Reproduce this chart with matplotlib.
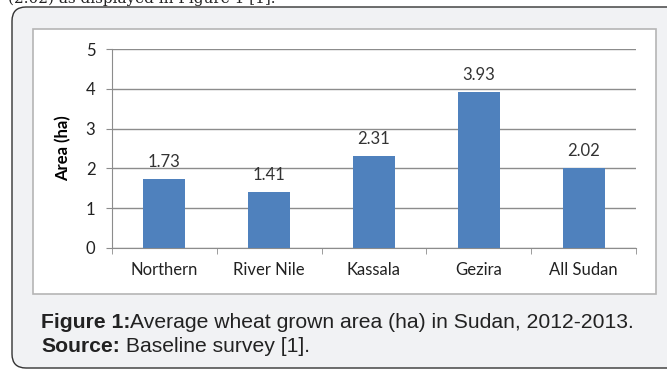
import numpy as np
import matplotlib
matplotlib.use("Agg")
import matplotlib.pyplot as plt
from matplotlib.patches import FancyBboxPatch, Rectangle

regions = ["Northern", "River Nile", "Kassala", "Gezira", "All Sudan"]
area = [1.73, 1.41, 2.31, 3.93, 2.02]
yticks = [0, 1, 2, 3, 4, 5]

W, H = 667, 369
fig = plt.figure(figsize=(W / 100, H / 100), dpi=100)
fig.patch.set_facecolor("white")

# background layer in pixel coordinates
bg = fig.add_axes([0, 0, 1, 1])
bg.set_xlim(0, W)
bg.set_ylim(H, 0)
bg.axis("off")

bg.text(8, 3.0, "(2.02) as displayed in Figure 1 [1].", family="DejaVu Serif",
        fontsize=11, color="#222222", va="baseline", ha="left")

outer = FancyBboxPatch((12, 7), 700, 361, boxstyle="round,pad=0,rounding_size=14",
                       facecolor="#f1f2f4", edgecolor="#333333", lw=1.0)
bg.add_patch(outer)
inner = Rectangle((33, 29), 623, 265, facecolor="white", edgecolor="#b5b5b5", lw=1.2)
bg.add_patch(inner)

cap = dict(family="Liberation Sans", fontsize=15.2, color="#222222")
t1 = bg.text(41, 322, "Figure 1:", fontweight="bold", va="center", ha="left", **cap)
bg.annotate("Average wheat grown area (ha) in Sudan, 2012-2013.", xy=(1, 0), xycoords=t1,
            va="bottom", ha="left", **cap)
t2 = bg.text(41, 347, "Source:", fontweight="bold", va="center", ha="left", **cap)
bg.annotate(" Baseline survey [1].", xy=(1, 0), xycoords=t2,
            va="bottom", ha="left", **cap)

# bar chart
ax = fig.add_axes([112 / W, (H - 248) / H, 524 / W, 199 / H])
x = np.arange(len(regions))
ax.bar(x, area, width=0.4, color="#4f81bd", zorder=3)
for xi, v in zip(x, area):
    ax.text(xi, v + 0.22, f"{v:.2f}", ha="center", va="bottom",
            family="Lato", fontsize=12, color="#333333")

ax.set_xlim(-0.5, len(regions) - 0.5)
ax.set_ylim(0, 5)
ax.set_yticks(yticks)
ax.set_yticklabels([str(t) for t in yticks], family="Lato", fontsize=12, color="#222222")
ax.set_xticks(x)
ax.set_xticklabels(regions, family="Lato", fontsize=12, color="#222222")
ax.set_xticks(np.arange(-0.5, len(regions), 1.0), minor=True)
ax.tick_params(axis="x", which="major", length=0, pad=10)
ax.tick_params(axis="x", which="minor", length=4, color="#8c8c8c", direction="out")
ax.tick_params(axis="y", length=4, color="#8c8c8c", pad=8)
ax.grid(axis="y", color="#8c8c8c", lw=1.0, zorder=0)
ax.set_ylabel("Area (ha)", family="Lato", fontweight="bold", fontsize=12, labelpad=10)

for side in ["top", "right"]:
    ax.spines[side].set_visible(False)
for side in ["left", "bottom"]:
    ax.spines[side].set_color("#8c8c8c")
ax.set_facecolor("none")

fig.savefig("out.png", dpi=100)
